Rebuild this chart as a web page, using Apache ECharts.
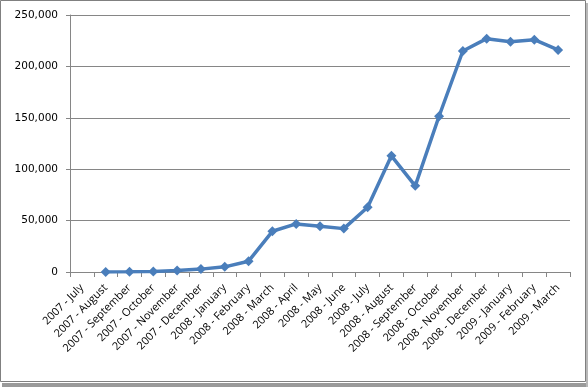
<!DOCTYPE html>
<html>
<head>
<meta charset="utf-8">
<script src="https://cdn.jsdelivr.net/npm/echarts@6/dist/echarts.min.js"></script>
<style>
html,body{margin:0;padding:0;background:#fff;}
#c{width:588px;height:388px;}
</style>
</head>
<body>
<div id="c"></div>
<script>
var categories = ["2007 - July","2007 - August","2007 - September","2007 - October","2007 - November","2007 - December","2008 - January","2008 - February","2008 - March","2008 - April","2008 - May","2008 - June","2008 - July","2008 - August","2008 - September","2008 - October","2008 - November","2008 - December","2009 - January","2009 - February","2009 - March"];
var values = [null, 0, 200, 500, 1500, 2800, 5000, 10500, 39600, 46800, 44400, 42200, 63000, 113000, 83800, 151500, 215000, 227000, 224000, 226000, 216000];
var yMin = 0, yMax = 250000, yInterval = 50000;

var chart = echarts.init(document.getElementById('c'), null, {renderer:'canvas'});
chart.setOption({
  animation:false,
  backgroundColor:'#ffffff',
  graphic:[
    {type:'rect', shape:{x:2, y:383, width:586, height:4}, style:{fill:'#9a9a9a'}, z:0},
    {type:'rect', shape:{x:586, y:3, width:2, height:384}, style:{fill:'#b8b8b8'}, z:0},
    {type:'rect', shape:{x:0.5, y:0.5, width:585, height:381}, style:{fill:'none', stroke:'#808080', lineWidth:1}, z:1}
  ],
  grid:{left:70, right:18, top:15, bottom:116, containLabel:false},
  xAxis:{
    type:'category',
    data:categories,
    boundaryGap:true,
    axisLine:{lineStyle:{color:'#868686', width:1}},
    axisTick:{show:true, length:5, lineStyle:{color:'#868686'}},
    axisLabel:{rotate:45, interval:0, margin:14, color:'#000', fontFamily:'Open Sans', fontSize:11},
    splitLine:{show:false}
  },
  yAxis:{
    type:'value',
    min:yMin, max:yMax, interval:yInterval,
    axisLine:{show:true, lineStyle:{color:'#868686', width:1}},
    axisTick:{show:true, length:4, lineStyle:{color:'#868686'}},
    axisLabel:{color:'#000', fontFamily:'DejaVu Sans', fontSize:10.5, margin:12,
      formatter:function(v){return v.toLocaleString('en-US');}},
    splitLine:{show:true, lineStyle:{color:'#868686', width:1}}
  },
  series:[{
    type:'line',
    data:values,
    connectNulls:false,
    symbol:'diamond',
    symbolSize:10,
    showAllSymbol:true,
    lineStyle:{color:'#4a7ebb', width:3.5},
    itemStyle:{color:'#4a7ebb'}
  }]
});
</script>
</body>
</html>
